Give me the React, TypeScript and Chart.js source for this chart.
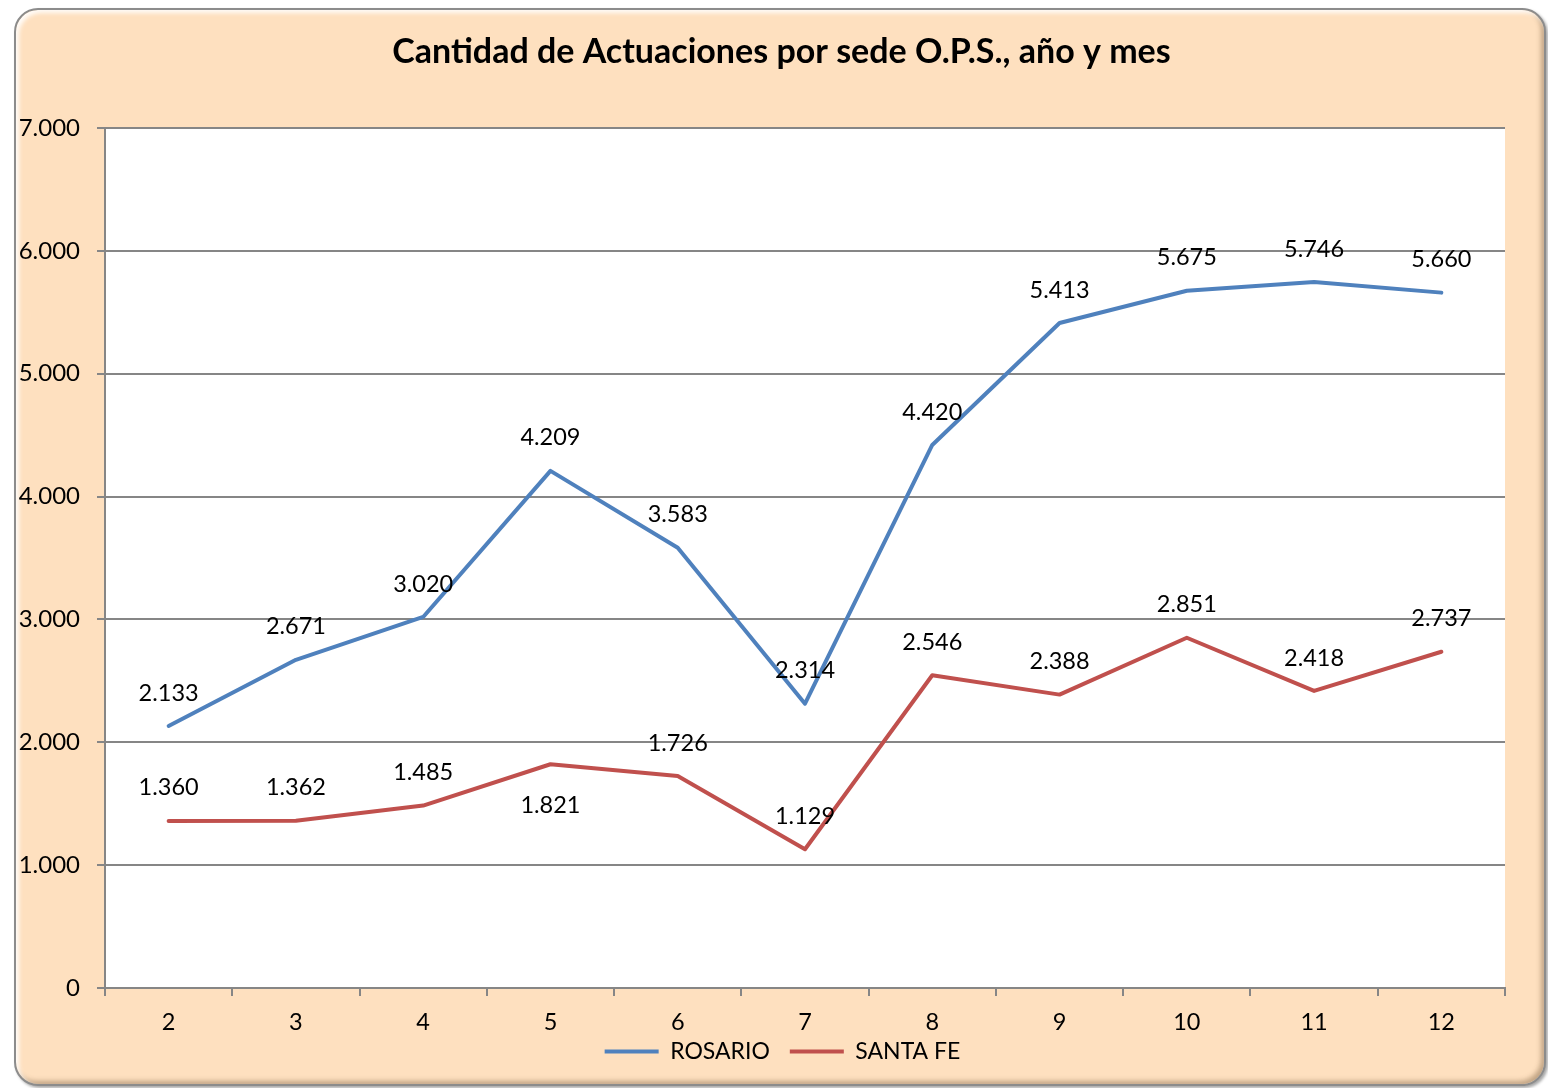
import React, { useEffect, useRef } from "react";
import { Chart, registerables } from "chart.js";

Chart.register(...registerables);

const titleText = "Cantidad de Actuaciones por sede O.P.S., año y mes";
const months = ["2", "3", "4", "5", "6", "7", "8", "9", "10", "11", "12"];
const rosario = [2133, 2671, 3020, 4209, 3583, 2314, 4420, 5413, 5675, 5746, 5660];
const santaFe = [1360, 1362, 1485, 1821, 1726, 1129, 2546, 2388, 2851, 2418, 2737];
const seriesNames = ["ROSARIO", "SANTA FE"];
const seriesColors = ["#4F81BD", "#C0504D"];
// label positions: true = label below the point
const rosarioBelow = [false, false, false, false, false, false, false, false, false, false, false];
const santaFeBelow = [false, false, false, true, false, false, false, false, false, false, false];
const yMin = 0;
const yMax = 7000;
const yStep = 1000;

const FONT = "Lato, 'Open Sans', sans-serif";

const fmt = (n: number) => String(Math.round(n)).replace(/\B(?=(\d{3})+(?!\d))/g, ".");

const plotBgPlugin = {
  id: "plotBg",
  beforeDraw(chart: any) {
    const { ctx, chartArea } = chart;
    if (!chartArea) return;
    ctx.save();
    ctx.fillStyle = "#FFFFFF";
    ctx.fillRect(chartArea.left, chartArea.top, chartArea.right - chartArea.left, chartArea.bottom - chartArea.top);
    ctx.restore();
  },
};

const dataLabelPlugin = {
  id: "dataLabels",
  afterDatasetsDraw(chart: any) {
    const ctx = chart.ctx;
    const belowSets = [rosarioBelow, santaFeBelow];
    ctx.save();
    ctx.font = `23.5px ${FONT}`;
    ctx.fillStyle = "#000";
    ctx.textAlign = "center";
    ctx.textBaseline = "middle";
    chart.data.datasets.forEach((ds: any, di: number) => {
      const meta = chart.getDatasetMeta(di);
      meta.data.forEach((pt: any, i: number) => {
        const below = belowSets[di][i];
        const y = below ? pt.y + 41 : pt.y - 33;
        ctx.fillText(fmt(ds.data[i]), pt.x, y);
      });
    });
    ctx.restore();
  },
};

const boxShiftPlugin = {
  id: "boxShift",
  afterLayout(chart: any) {
    const l = chart.legend;
    if (l) {
      l.left += 30;
      l.right += 30;
      l.top -= 15;
      l.bottom -= 15;
    }
    const t = chart.titleBlock;
    if (t) {
      t.left += 29;
      t.right += 29;
    }
  },
};

export default function App() {
  const ref = useRef<HTMLCanvasElement | null>(null);

  useEffect(() => {
    if (!ref.current) return;
    const chart = new Chart(ref.current, {
      type: "line",
      data: {
        labels: months,
        datasets: [
          {
            label: seriesNames[0],
            data: rosario,
            borderColor: seriesColors[0],
            backgroundColor: seriesColors[0],
            borderWidth: 4,
            pointRadius: 0,
            tension: 0,
            borderCapStyle: "round",
            borderJoinStyle: "round",
          },
          {
            label: seriesNames[1],
            data: santaFe,
            borderColor: seriesColors[1],
            backgroundColor: seriesColors[1],
            borderWidth: 4,
            pointRadius: 0,
            tension: 0,
            borderCapStyle: "round",
            borderJoinStyle: "round",
          },
        ],
      },
      options: {
        responsive: false,
        animation: false,
        devicePixelRatio: 1,
        layout: { padding: { left: 0, right: 43, top: 0, bottom: 0 } },
        plugins: {
          tooltip: { enabled: false },
          title: {
            display: true,
            text: titleText,
            color: "#000",
            font: { family: FONT, size: 34, weight: "bold", lineHeight: 1.2 },
            padding: { top: 32, bottom: 55.2 },
          },
          legend: {
            position: "bottom",
            labels: {
              usePointStyle: true,
              pointStyle: "line",
              pointStyleWidth: 54,
              boxHeight: 23,
              padding: 20,
              color: "#000",
              font: { family: FONT, size: 23 },
            },
          },
        },
        scales: {
          x: {
            type: "category",
            offset: true,
            grid: {
              offset: true,
              drawOnChartArea: false,
              drawTicks: true,
              tickLength: 8,
              color: "#868686",
              lineWidth: 2,
            },
            border: { color: "#868686", width: 2 },
            ticks: {
              color: "#000",
              padding: 12,
              font: { family: FONT, size: 23.5 },
              maxRotation: 0,
            },
            afterFit(scale: any) {
              scale.height = 47;
            },
          },
          y: {
            min: yMin,
            max: yMax,
            grid: {
              color: "#868686",
              lineWidth: 2,
              drawTicks: true,
              tickLength: 8,
            },
            border: { color: "#868686", width: 2 },
            ticks: {
              stepSize: yStep,
              color: "#000",
              padding: 17,
              font: { family: FONT, size: 24 },
              callback: (v: any) => fmt(Number(v)),
            },
            afterFit(scale: any) {
              scale.width = 105;
            },
          },
        },
      },
      plugins: [plotBgPlugin, dataLabelPlugin, boxShiftPlugin],
    } as any);
    return () => chart.destroy();
  }, []);

  return (
    <div style={{ position: "absolute", left: 0, top: 0, width: 1548, height: 1088, overflow: "hidden" }}>
      <div
        style={{
          position: "absolute",
          left: 14,
          top: 8,
          width: 1532,
          height: 1078,
          boxSizing: "border-box",
          borderRadius: 24,
          background: "#FEE0BF",
          border: "2px solid #8c8c8c",
          boxShadow: "inset 3px 3px 4px rgba(255,255,255,0.9), inset -3px -3px 5px rgba(120,90,60,0.45), 2px 2px 3px rgba(0,0,0,0.35)",
        }}
      />
      <canvas
        ref={ref}
        width={1548}
        height={1088}
        style={{ position: "absolute", left: 0, top: 0, width: 1548, height: 1088 }}
      />
    </div>
  );
}
